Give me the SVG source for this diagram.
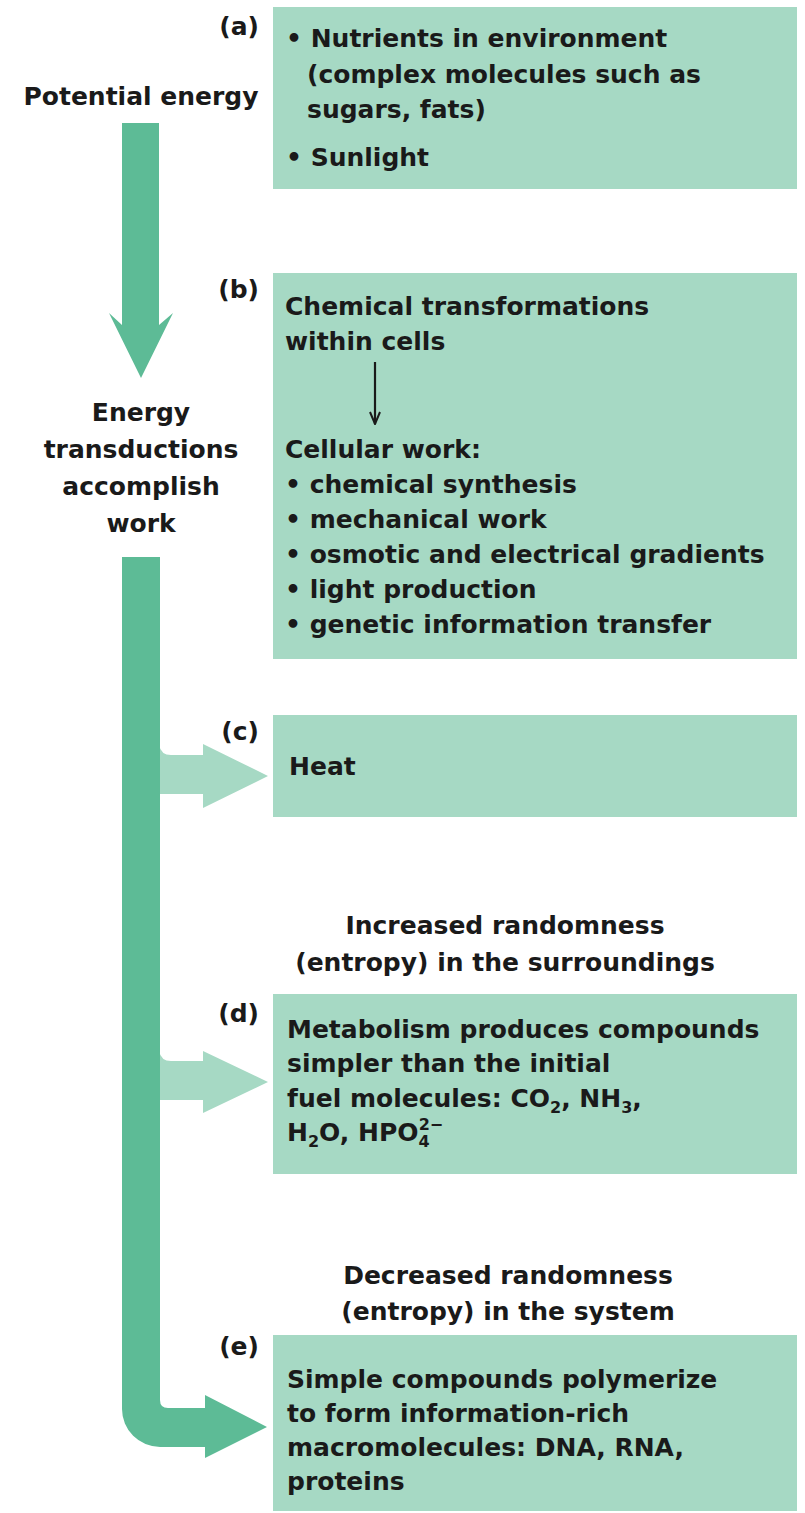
<svg xmlns="http://www.w3.org/2000/svg" width="805" height="1513" viewBox="0 0 805 1513">
<style>
  .box { fill: #a6d9c4; }
  .t { font-family: "DejaVu Sans", "Liberation Sans", sans-serif; font-weight: bold; font-size: 25px; fill: #1a1a1a; }
  .lbl { text-anchor: end; }
  .mid { text-anchor: middle; }
  .dark { fill: #5dbb96; }
  .light { fill: #a6d9c4; }
  .sub { font-size: 16px; }
</style>
<defs>
  <marker id="ah" viewBox="0 0 14 12" refX="13" refY="6" markerWidth="14" markerHeight="12" markerUnits="userSpaceOnUse" orient="auto">
    <path d="M1,1 L13,6 L1,11" fill="none" stroke="#1a1a1a" stroke-width="2"/>
  </marker>
</defs>
<rect width="805" height="1513" fill="#ffffff"/>

<g id="potential-energy">
  <text class="t mid" x="141" y="105">Potential energy</text>
</g>

<g id="energy-transductions">
  <text class="t mid" x="141" y="421">Energy</text>
  <text class="t mid" x="141" y="458">transductions</text>
  <text class="t mid" x="141" y="495">accomplish</text>
  <text class="t mid" x="141" y="532">work</text>
</g>

<g id="node-a">
  <rect class="box" x="273" y="7" width="524" height="182"/>
  <text class="t lbl" x="259" y="35">(a)</text>
  <text class="t" x="286" y="47">• Nutrients in environment</text>
  <text class="t" x="307" y="83">(complex molecules such as</text>
  <text class="t" x="307" y="118">sugars, fats)</text>
  <text class="t" x="286" y="166">• Sunlight</text>
</g>

<g id="node-b">
  <rect class="box" x="273" y="273" width="524" height="386"/>
  <text class="t lbl" x="259" y="298">(b)</text>
  <text class="t" x="285" y="315">Chemical transformations</text>
  <text class="t" x="285" y="350">within cells</text>
  <text class="t" x="285" y="458">Cellular work:</text>
  <text class="t" x="285" y="493">• chemical synthesis</text>
  <text class="t" x="285" y="528">• mechanical work</text>
  <text class="t" x="285" y="563">• osmotic and electrical gradients</text>
  <text class="t" x="285" y="598">• light production</text>
  <text class="t" x="285" y="633">• genetic information transfer</text>
</g>

<g id="node-c">
  <rect class="box" x="273" y="715" width="524" height="102"/>
  <text class="t lbl" x="259" y="740">(c)</text>
  <text class="t" x="289" y="775">Heat</text>
</g>

<g id="increased-randomness">
  <text class="t mid" x="505" y="934">Increased randomness</text>
  <text class="t mid" x="505" y="971">(entropy) in the surroundings</text>
</g>

<g id="node-d">
  <rect class="box" x="273" y="994" width="524" height="180"/>
  <text class="t lbl" x="259" y="1022">(d)</text>
  <text class="t" x="287" y="1038">Metabolism produces compounds</text>
  <text class="t" x="287" y="1072">simpler than the initial</text>
  <text class="t" x="287" y="1107">fuel molecules: CO<tspan class="sub" dy="6">2</tspan><tspan dy="-6">, NH</tspan><tspan class="sub" dy="6">3</tspan><tspan dy="-6">,</tspan></text>
  <text class="t" x="287" y="1141">H<tspan class="sub" dy="6">2</tspan><tspan dy="-6">O, HPO</tspan><tspan class="sub" dy="6">4</tspan><tspan class="sub" dx="-11" dy="-17">2−</tspan></text>
</g>

<g id="decreased-randomness">
  <text class="t mid" x="508" y="1284">Decreased randomness</text>
  <text class="t mid" x="508" y="1320">(entropy) in the system</text>
</g>

<g id="node-e">
  <rect class="box" x="273" y="1335" width="524" height="176"/>
  <text class="t lbl" x="259" y="1355">(e)</text>
  <text class="t" x="287" y="1388">Simple compounds polymerize</text>
  <text class="t" x="287" y="1422">to form information-rich</text>
  <text class="t" x="287" y="1456">macromolecules: DNA, RNA,</text>
  <text class="t" x="287" y="1490">proteins</text>
</g>

<g id="connectors">
  <path id="arrow-top" class="dark" d="M122,123 L159,123 L159,325 L173,313 L141,378 L109,313 L122,325 Z"/>
  <path id="arrow-heat" class="light" d="M159,745 Q161,755 171,755 L203,755 L203,744 L268,776 L203,808 L203,794 L159,794 Z"/>
  <path id="arrow-d" class="light" d="M159,1051 Q161,1061 171,1061 L203,1061 L203,1051 L268,1082 L203,1113 L203,1100 L159,1100 Z"/>
  <path id="arrow-e" class="dark" d="M122,557 L160,557 L160,1400 Q160,1408 168,1408 L205,1408 L205,1395 L267,1427 L205,1458 L205,1447 L160,1447 A38,38 0 0 1 122,1409 Z"/>
  <line id="arrow-b" x1="375" y1="362" x2="375" y2="424" stroke="#1a1a1a" stroke-width="2.2" marker-end="url(#ah)"/>
</g>
</svg>
